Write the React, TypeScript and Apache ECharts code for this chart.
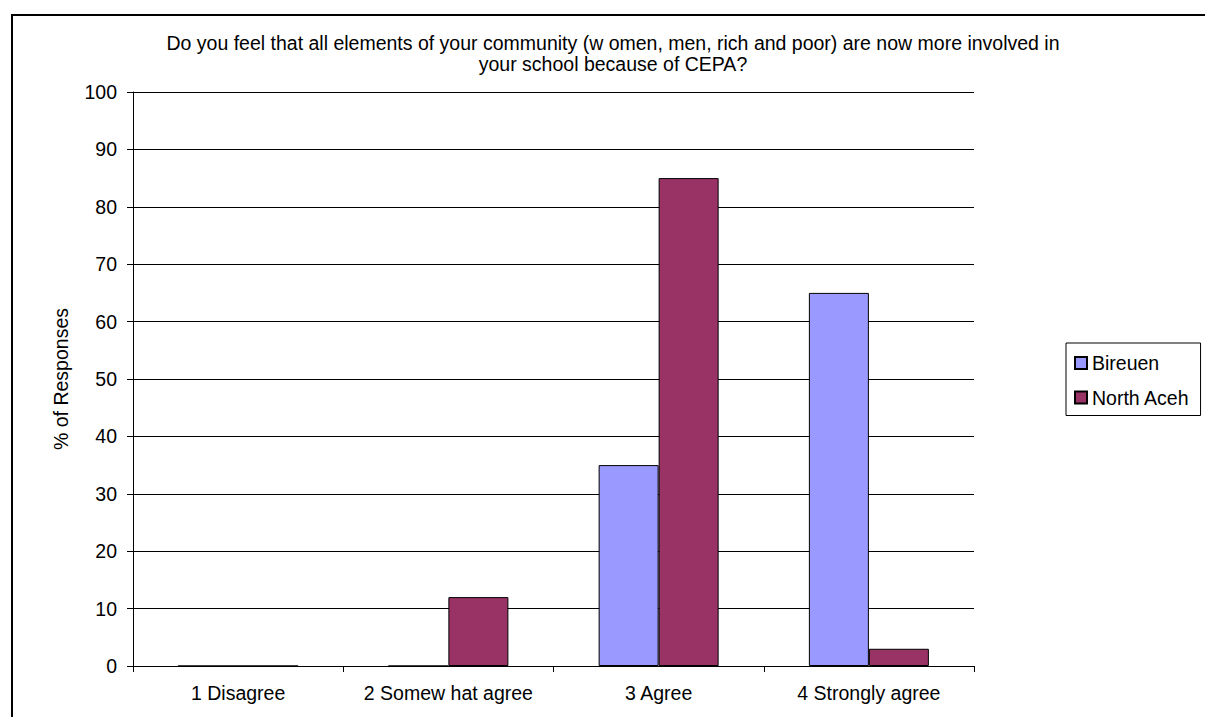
import React, { useEffect, useRef } from "react";
import * as echarts from "echarts";

const categories = ["1 Disagree", "2 Somew hat agree", "3 Agree", "4 Strongly agree"];
const bireuen = [0, 0, 35, 65];
const northAceh = [0, 12, 85, 3];
const yTicks = { min: 0, max: 100, interval: 10 };
const titleText =
  "Do you feel that all elements of your community (w omen, men, rich and poor) are now more involved in\nyour school because of CEPA?";
const yAxisName = "% of Responses";

const FONT = 'Arial, "Liberation Sans", sans-serif';
const FS = 19.5;

export default function App() {
  const ref = useRef<HTMLDivElement>(null);
  useEffect(() => {
    if (!ref.current) return;
    const chart = echarts.init(ref.current, undefined, { renderer: "svg" });
    chart.setOption({
      animation: false,
      backgroundColor: "#ffffff",
      title: {
        text: titleText,
        left: 613,
        top: 32,
        textAlign: "center",
        padding: 0,
        textStyle: {
          fontFamily: FONT,
          fontSize: FS,
          fontWeight: "normal",
          color: "#000",
          lineHeight: 21,
        },
      },
      graphic: [
        {
          type: "rect",
          shape: { x: 12, y: 15, width: 1200, height: 710 },
          style: { fill: "none", stroke: "#000", lineWidth: 2 },
          silent: true,
          z: 100,
        },
      ],
      legend: {
        orient: "vertical",
        left: 1066,
        top: 343,
        padding: [10, 11, 8, 8],
        itemGap: 14.5,
        itemWidth: 12,
        itemHeight: 12,
        icon: "rect",
        borderColor: "#000",
        borderWidth: 1,
        textStyle: { fontFamily: FONT, fontSize: FS, color: "#000" },
        data: ["Bireuen", "North Aceh"],
      },
      grid: { left: 133, top: 92, right: 231, bottom: 51, containLabel: false },
      xAxis: {
        type: "category",
        data: categories,
        axisLine: { lineStyle: { color: "#000", width: 1 } },
        axisTick: { show: true, length: 6, lineStyle: { color: "#000" } },
        axisLabel: { interval: 0, fontFamily: FONT, fontSize: FS, color: "#000", margin: 17 },
      },
      yAxis: {
        type: "value",
        min: yTicks.min,
        max: yTicks.max,
        interval: yTicks.interval,
        name: yAxisName,
        nameLocation: "middle",
        nameRotate: 90,
        nameGap: 62,
        nameTextStyle: { fontFamily: FONT, fontSize: FS, color: "#000" },
        axisLine: { show: true, lineStyle: { color: "#000", width: 1 } },
        axisTick: { show: true, length: 6, lineStyle: { color: "#000" } },
        axisLabel: { fontFamily: FONT, fontSize: FS, color: "#000", margin: 16 },
        splitLine: { show: true, lineStyle: { color: "#000", width: 1 } },
      },
      series: [
        {
          name: "Bireuen",
          type: "bar",
          data: bireuen,
          barWidth: 60,
          barGap: "0%",
          itemStyle: { color: "#9999FF", borderColor: "#000", borderWidth: 1 },
        },
        {
          name: "North Aceh",
          type: "bar",
          data: northAceh,
          barWidth: 60,
          barGap: "0%",
          itemStyle: { color: "#993366", borderColor: "#000", borderWidth: 1 },
        },
      ],
    });
    return () => chart.dispose();
  }, []);
  return (
    <div
      ref={ref}
      style={{ position: "absolute", left: 0, top: 0, width: 1205, height: 717 }}
    />
  );
}
